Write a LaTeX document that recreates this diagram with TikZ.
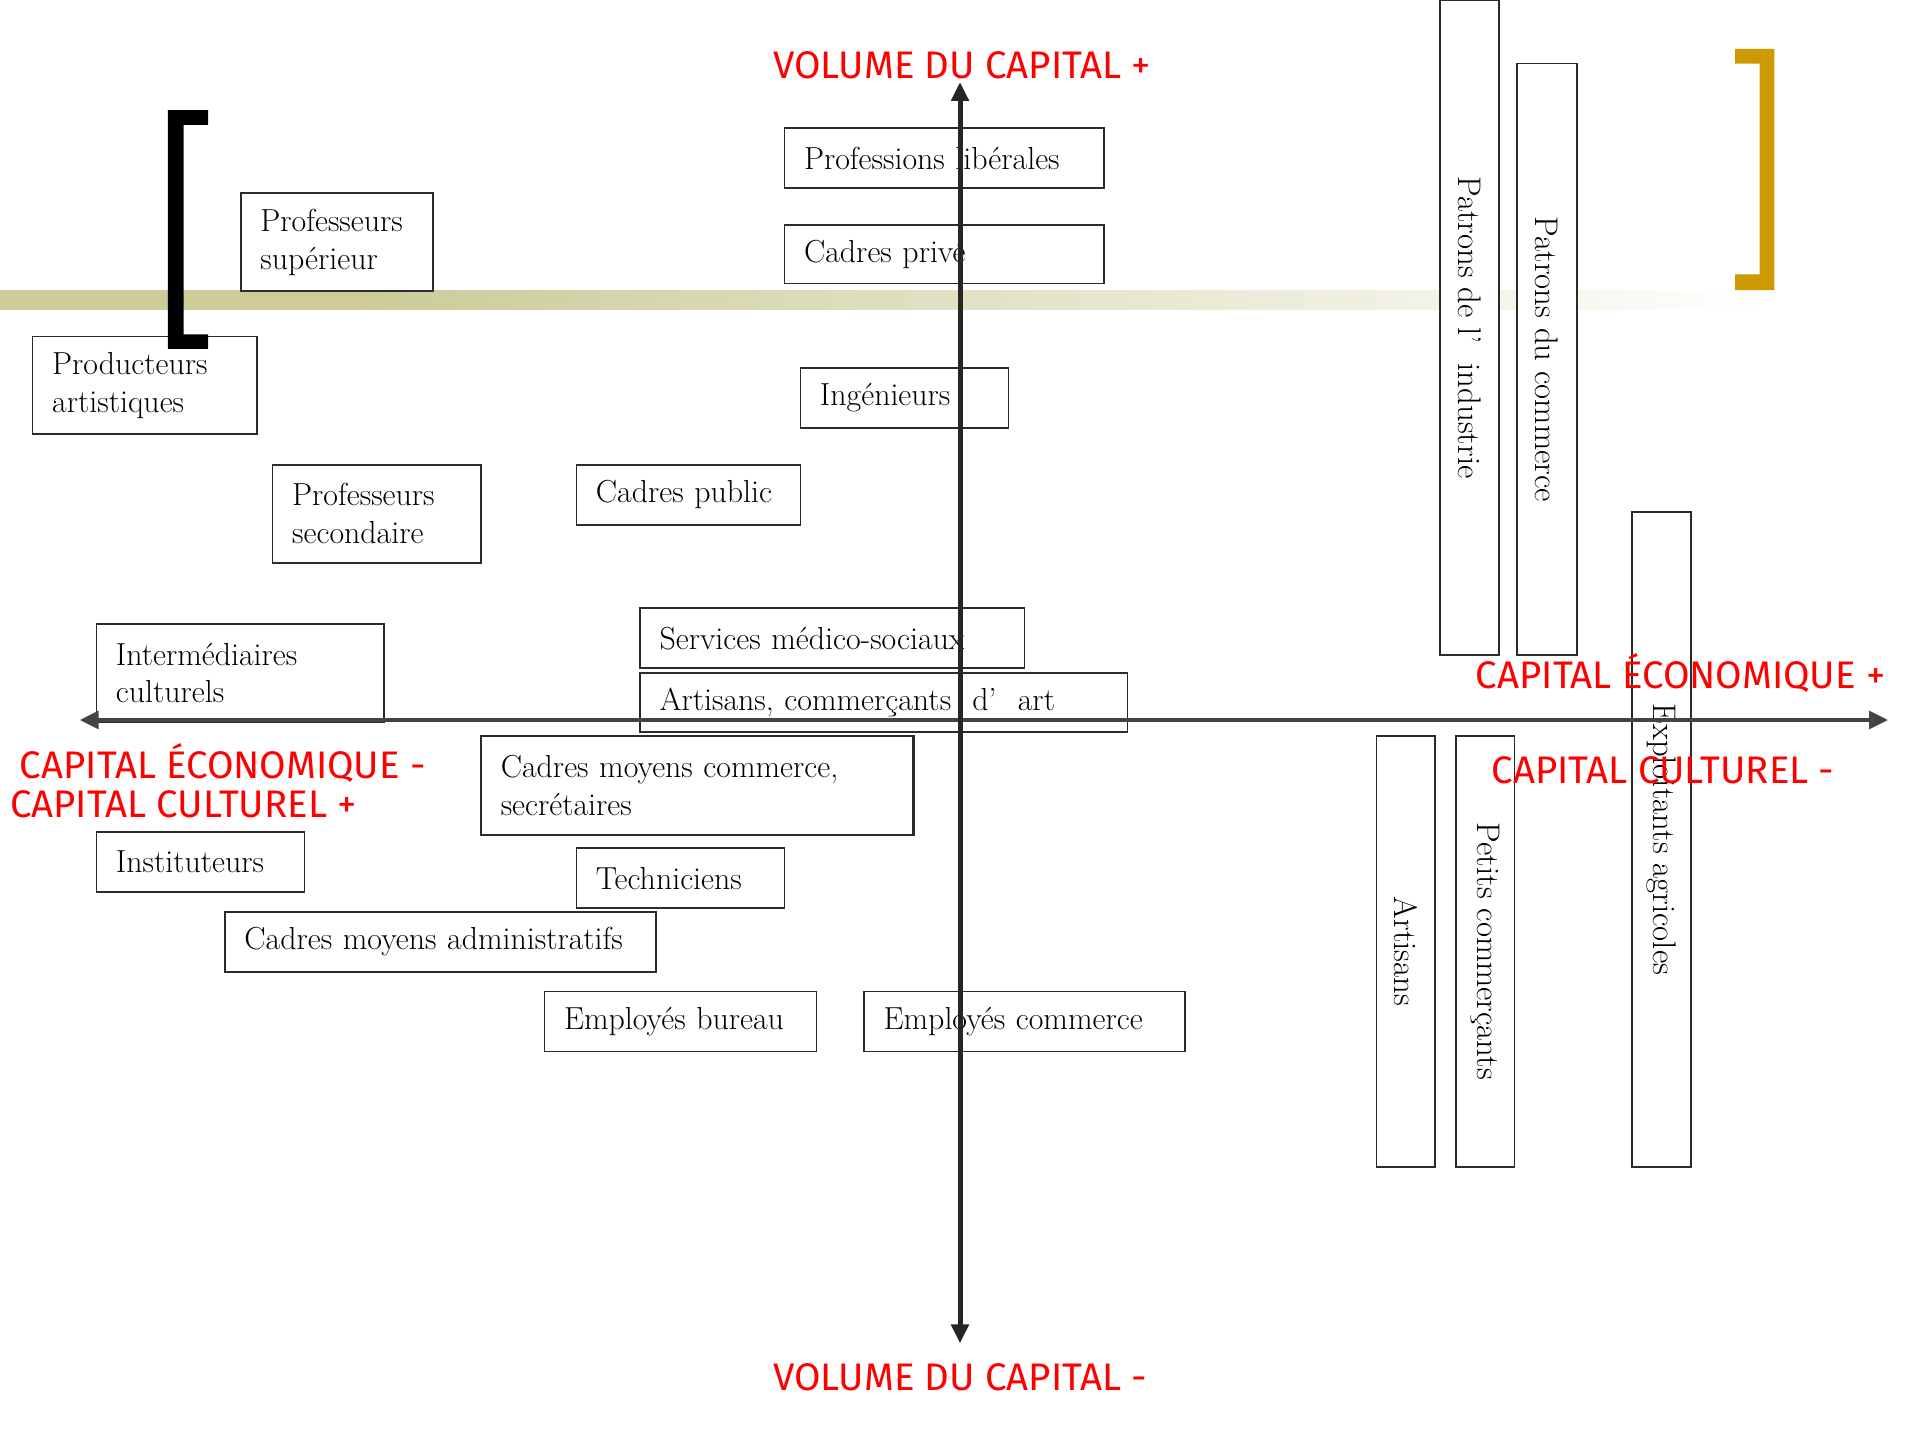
\documentclass[tikz,border=0pt]{standalone}
\usepackage{fontspec}
\newfontfamily\capfont{Fira Sans}
\usetikzlibrary{arrows.meta}
\definecolor{bandolive}{HTML}{CCCB99}
\definecolor{bracketgold}{HTML}{CC9900}
\definecolor{axisgray}{HTML}{444444}
\definecolor{boxgray}{HTML}{2B2B2B}
\begin{document}
\begin{tikzpicture}[x=0.025cm,y=-0.025cm,
  cat/.style={draw=boxgray,fill=white,line width=0.9pt,anchor=north west,align=left,
    inner xsep=0.4cm,inner ysep=0pt,font=\fontsize{18.5}{22}\selectfont},
  catv/.style={draw=boxgray,fill=white,line width=0.9pt,rotate=-90,inner sep=0pt,
    font=\fontsize{19}{22}\selectfont},
  axis/.style={line width=2.6pt,draw=axisgray,
    {Triangle[length=11pt,width=10pt]}-{Triangle[length=11pt,width=10pt]}},
  pole/.style={text=red,anchor=west,inner sep=0pt,font=\capfont\fontsize{22.3}{26}\selectfont}]
\useasboundingbox (0,0) rectangle (1568,1176);
% band
\fill[bandolive] (0,237) rectangle (300,253);
\shade[left color=bandolive,right color=white] (300,237) rectangle (1449,253);
% categories
\node[cat,text width=5.725cm,minimum height=1.225cm] (prolib) at (640,104) {Professions libérales};
\node[cat,text width=5.725cm,minimum height=1.2cm] (cadpriv) at (640,183) {Cadres privé};
\node[cat,text width=3.125cm,minimum height=2cm] (profsup) at (196,157) {Professeurs\\supérieur};
\node[cat,text width=3.775cm,minimum height=2cm] (prodart) at (26,274) {Producteurs\\artistiques};
\node[cat,text width=3.45cm,minimum height=1.225cm] (ingen) at (653,300) {Ingénieurs};
\node[cat,text width=3.45cm,minimum height=2cm] (profsec) at (222,379) {Professeurs\\secondaire};
\node[cat,text width=3.775cm,minimum height=1.225cm] (cadpub) at (470,379) {Cadres public};
\node[cat,text width=7.05cm,minimum height=1.225cm] (medsoc) at (522,496) {Services médico-sociaux};
\node[cat,text width=9.15cm,minimum height=1.2cm] (artart) at (522,549) {Artisans, commerçants\ \ d’\ \ art};
\node[cat,text width=5.075cm,minimum height=2cm] (intcult) at (78,509) {Intermédiaires\\culturels};
\node[cat,line width=1.4pt,text width=8.025cm,minimum height=2.025cm] (cmcom) at (392,600) {Cadres moyens commerce,\\secrétaires};
\node[cat,text width=3.45cm,minimum height=1.225cm] (instit) at (78,679) {Instituteurs};
\node[cat,text width=3.45cm,minimum height=1.225cm] (techn) at (470,692) {Techniciens};
\node[cat,text width=8cm,minimum height=1.225cm] (cmadm) at (183,744) {Cadres moyens administratifs};
\node[cat,text width=4.75cm,minimum height=1.225cm] (empbur) at (444,809) {Employés bureau};
\node[cat,text width=5.75cm,minimum height=1.225cm] (empcom) at (705,809) {Employés commerce};
\node[catv,minimum width=13.375cm,minimum height=1.2cm] (patind) at (1200,267.5) {Patrons de l’\ \ industrie};
\node[catv,minimum width=12.075cm,minimum height=1.225cm] (patcom) at (1263.5,293.5) {Patrons du commerce};
\node[catv,minimum width=13.375cm,minimum height=1.2cm] (exploit) at (1357,685.5) {Exploitants agricoles};
\node[catv,minimum width=8.8cm,minimum height=1.2cm] (artis) at (1148,777) {Artisans};
\node[catv,minimum width=8.8cm,minimum height=1.2cm] (petcom) at (1213,777) {Petits commerçants};
% brackets
\fill[black] (137,90) -- (170,90) -- (170,102) -- (150,102) -- (150,273) -- (170,273)
  -- (170,285) -- (137,285) -- cycle;
\fill[bracketgold] (1417,40) -- (1449,40) -- (1449,237) -- (1417,237) -- (1417,224)
  -- (1437,224) -- (1437,52) -- (1417,52) -- cycle;
% axes
\coordinate (west) at (65,588);
\coordinate (east) at (1542,588);
\coordinate (north) at (784,67);
\coordinate (south) at (784,1097);
\draw[axis] (west) -- (east);
\draw[axis,draw=black!85,line width=2.9pt] (south) -- (north);
\node[pole] (volplus) at (631,53) {VOLUME DU CAPITAL +};
\node[pole] (volmoins) at (631,1125) {VOLUME DU CAPITAL -};
\node[pole] (ecoplus) at (1205,550) {CAPITAL ÉCONOMIQUE +};
\node[pole] (culmoins) at (1218,629) {CAPITAL CULTUREL -};
\node[pole] (ecomoins) at (16,623) {CAPITAL ÉCONOMIQUE -};
\node[pole] (culplus) at (8,657) {CAPITAL CULTUREL +};
\end{tikzpicture}
\end{document}
